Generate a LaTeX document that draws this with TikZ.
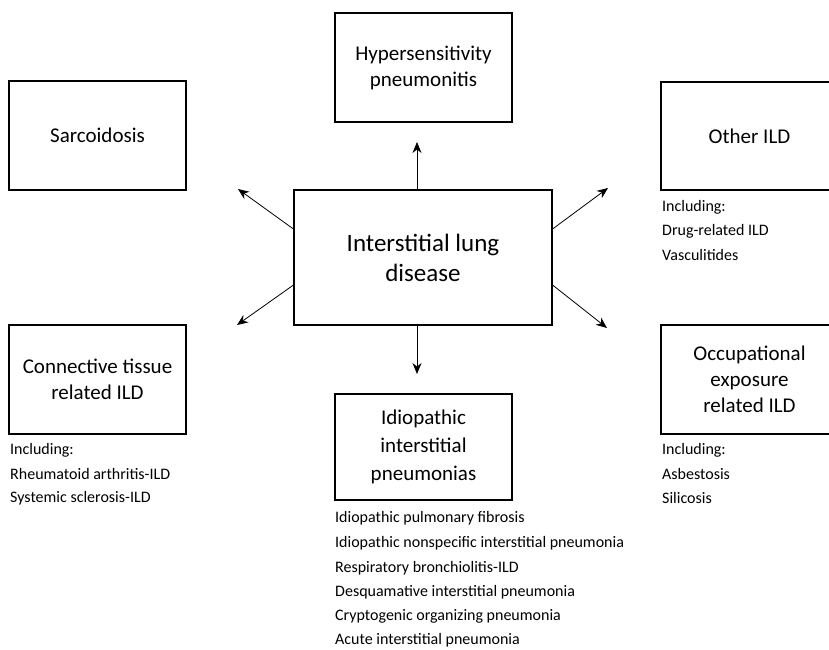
\documentclass[tikz,border=0pt]{standalone}
\usepackage{fontspec}
\setmainfont{Carlito}
\usetikzlibrary{arrows.meta}
\tikzset{
  box/.style={draw, line width=1.1pt, minimum width=177pt, minimum height=109pt, inner sep=0pt, align=center, font=\fontsize{21}{26}\selectfont},
  mainbox/.style={draw, line width=1.1pt, minimum width=258pt, minimum height=135pt, inner sep=0pt, align=center, font=\fontsize{25}{30}\selectfont},
  listtext/.style={anchor=west, inner sep=0pt, font=\fontsize{16}{19}\selectfont},
  arr/.style={line width=0.8pt, -{Stealth[length=11pt, width=9pt]}}
}
\begin{document}
\begin{tikzpicture}[x=1pt, y=-1pt]
\clip (0,0) rectangle (829,649);
\fill[white] (0,0) rectangle (829,649);

% main
\node[mainbox] (c) at (423,257.5) {Interstitial lung\\disease};

% boxes
\node[box] (sar) at (97.5,135.5) {Sarcoidosis};
\node[box] (hyp) at (423.5,67.5) {Hypersensitivity\\pneumonitis};
\node[box, minimum height=108pt] (oth) at (749.5,136) {Other ILD};
\node[box] (con) at (97.5,379.5) {Connective tissue\\related ILD};
\node[box] (occ) at (749.5,379.5) {Occupational\\exposure\\related ILD};
\node[box, minimum height=106pt, font=\fontsize{21}{28}\selectfont] (idi) at (423.5,447) {Idiopathic\\interstitial\\pneumonias};

% arrow tips
\coordinate (tu) at (417,142);
\coordinate (td) at (417,374);
\coordinate (tul) at (238,189);
\coordinate (tur) at (608,188);
\coordinate (tdl) at (237,325);
\coordinate (tdr) at (607,328);

\draw[arr] (c.north -| tu) -- (tu);
\draw[arr] (c.south -| td) -- (td);
\draw[arr] ([yshift=28.5pt]c.west) -- (tul);
\draw[arr] ([yshift=28.5pt]c.east) -- (tur);
\draw[arr] ([yshift=-27.5pt]c.west) -- (tdl);
\draw[arr] ([yshift=-27.5pt]c.east) -- (tdr);

% lists
\node[listtext] (o1) at (662,207) {Including:};
\node[listtext] (o2) at (662,231) {Drug-related ILD};
\node[listtext] (o3) at (662,255) {Vasculitides};

\node[listtext] (c1) at (10,450) {Including:};
\node[listtext] (c2) at (10,474) {Rheumatoid arthritis-ILD};
\node[listtext] (c3) at (10,498) {Systemic sclerosis-ILD};

\node[listtext] (p1) at (662,450) {Including:};
\node[listtext] (p2) at (662,474) {Asbestosis};
\node[listtext] (p3) at (662,498) {Silicosis};

\node[listtext] (i1) at (335,518) {Idiopathic pulmonary fibrosis};
\node[listtext] (i2) at (335,543) {Idiopathic nonspecific interstitial pneumonia};
\node[listtext] (i3) at (335,568) {Respiratory bronchiolitis-ILD};
\node[listtext] (i4) at (335,592) {Desquamative interstitial pneumonia};
\node[listtext] (i5) at (335,616) {Cryptogenic organizing pneumonia};
\node[listtext] (i6) at (335,640) {Acute interstitial pneumonia};
\end{tikzpicture}
\end{document}
